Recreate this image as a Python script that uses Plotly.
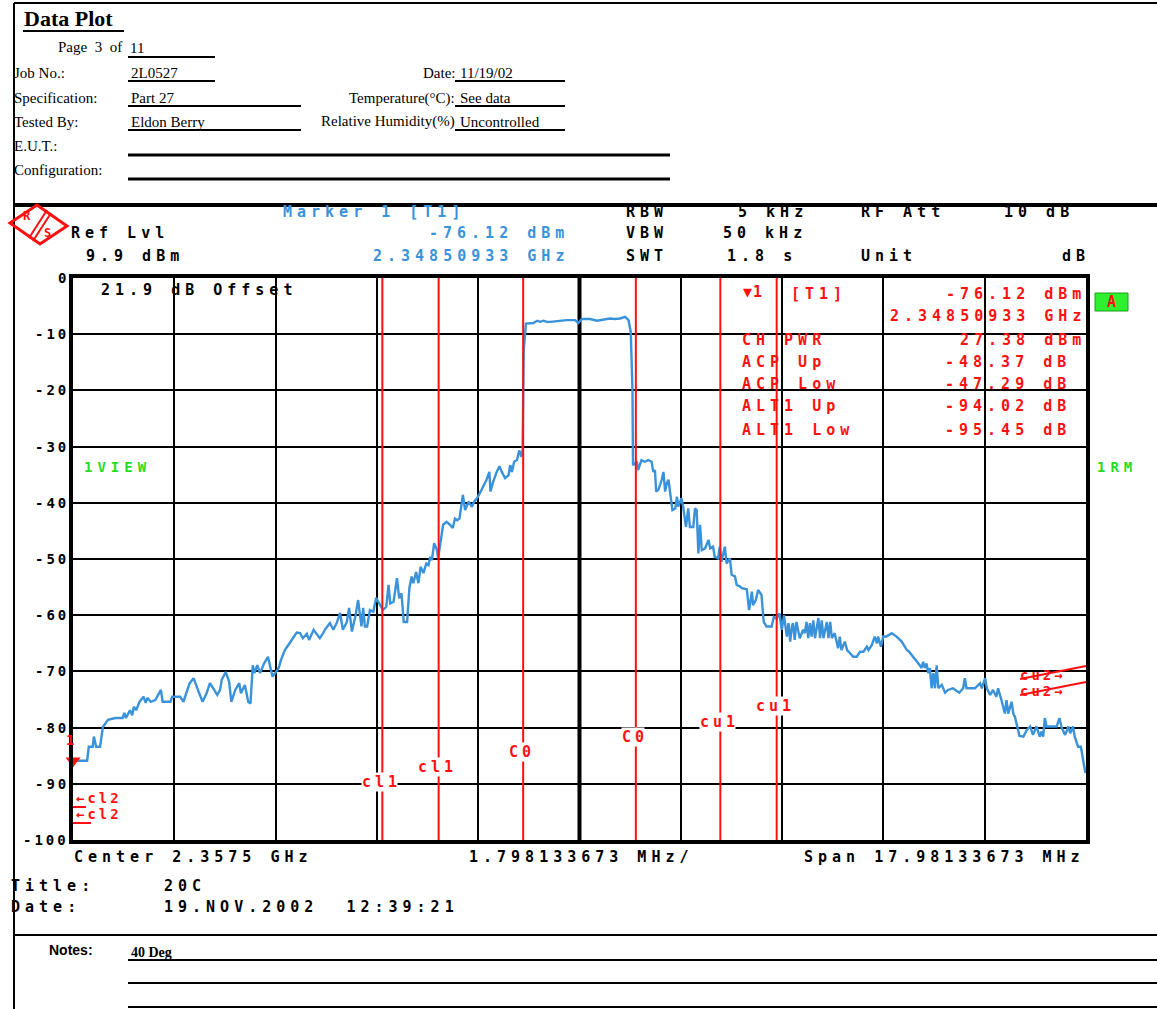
import plotly.graph_objects as go

W, H = 1157, 1009

# ---------------- data ----------------
center_ghz = 2.3575
span_mhz = 17.98133673
div_mhz = 1.798133673

freq_mhz = [
    -8.99, -8.74, -8.71, -8.64, -8.62, -8.58, -8.51, -8.46, -8.37, -8.24,
    -8.11, -8.08, -8.05, -7.98, -7.94, -7.91, -7.87, -7.81, -7.74, -7.70,
    -7.67, -7.61, -7.53, -7.43, -7.40, -7.26, -7.23, -7.09, -7.03, -6.96,
    -6.92, -6.85, -6.81, -6.75, -6.69, -6.62, -6.56, -6.52, -6.43, -6.38,
    -6.35, -6.28, -6.22, -6.18, -6.11, -6.04, -6.01, -5.94, -5.88, -5.84,
    -5.80, -5.77, -5.72, -5.67, -5.60, -5.53, -5.45, -5.40, -5.34, -5.30,
    -5.23, -5.14, -5.02, -4.96, -4.91, -4.84, -4.80, -4.72, -4.66, -4.61,
    -4.55, -4.52, -4.43, -4.37, -4.31, -4.25, -4.20, -4.13, -4.09, -4.04,
    -3.98, -3.93, -3.87, -3.84, -3.81, -3.77, -3.72, -3.66, -3.61, -3.56,
    -3.49, -3.43, -3.39, -3.36, -3.30, -3.24, -3.20, -3.16, -3.12, -3.06,
    -3.02, -2.98, -2.95, -2.90, -2.86, -2.82, -2.77, -2.72, -2.68, -2.65,
    -2.62, -2.58, -2.53, -2.51, -2.46, -2.42, -2.36, -2.30, -2.25, -2.21,
    -2.17, -2.13, -2.07, -2.03, -1.97, -1.91, -1.87, -1.82, -1.77, -1.71,
    -1.65, -1.60, -1.58, -1.54, -1.47, -1.42, -1.38, -1.32, -1.26, -1.23,
    -1.20, -1.16, -1.11, -1.07, -1.03, -1.01, -0.99, -0.95, -0.82, -0.75,
    -0.70, -0.64, -0.58, -0.52, -0.35, -0.23, -0.08, -0.02, 0.04, 0.19,
    0.31, 0.36, 0.48, 0.54, 0.63, 0.72, 0.81, 0.87, 0.91, 0.94,
    0.95, 1.02, 1.04, 1.10, 1.16, 1.22, 1.28, 1.31, 1.34, 1.36,
    1.40, 1.46, 1.49, 1.52, 1.55, 1.58, 1.61, 1.65, 1.70, 1.73,
    1.75, 1.81, 1.84, 1.89, 1.93, 1.96, 2.02, 2.05, 2.08, 2.11,
    2.14, 2.17, 2.23, 2.29, 2.32, 2.37, 2.40, 2.46, 2.49, 2.52,
    2.58, 2.61, 2.67, 2.70, 2.76, 2.79, 2.85, 2.88, 2.97, 3.01,
    3.06, 3.08, 3.13, 3.17, 3.23, 3.27, 3.32, 3.41, 3.45, 3.50,
    3.55, 3.59, 3.63, 3.68, 3.71, 3.74, 3.77, 3.79, 3.82, 3.85,
    3.91, 3.97, 4.00, 4.03, 4.06, 4.09, 4.12, 4.15, 4.18, 4.24,
    4.27, 4.30, 4.33, 4.39, 4.42, 4.45, 4.48, 4.53, 4.59, 4.62,
    4.65, 4.71, 4.75, 4.80, 4.86, 4.92, 4.98, 5.04, 5.10, 5.13,
    5.19, 5.24, 5.28, 5.30, 5.35, 5.39, 5.45, 5.54, 5.63, 5.72,
    5.81, 5.85, 5.92, 5.98, 6.04, 6.07, 6.10, 6.13, 6.16, 6.19,
    6.22, 6.25, 6.28, 6.31, 6.34, 6.37, 6.43, 6.49, 6.54, 6.63,
    6.74, 6.81, 6.84, 6.87, 6.93, 7.02, 7.11, 7.14, 7.20, 7.23,
    7.29, 7.34, 7.40, 7.43, 7.49, 7.55, 7.58, 7.61, 7.67, 7.70,
    7.73, 7.76, 7.81, 7.88, 7.94, 8.00, 8.05, 8.11, 8.17, 8.20,
    8.23, 8.26, 8.29, 8.35, 8.47, 8.52, 8.56, 8.62, 8.68, 8.71,
    8.76, 8.79, 8.85, 8.90, 8.92, 8.95, 8.98,
]
level_db = [
    -85.9, -85.9, -83.4, -83.4, -81.6, -83.4, -83.4, -79.9, -78.6, -78.3,
    -78.3, -77.4, -78.3, -76.9, -77.8, -76.3, -76.9, -75.4, -74.5, -75.6,
    -74.7, -75.4, -75.1, -73.3, -75.4, -75.4, -74.5, -74.5, -75.4, -73.3,
    -72.1, -71.2, -72.4, -73.9, -75.4, -73.9, -72.1, -72.7, -74.2, -73.3,
    -71.5, -70.1, -71.8, -75.4, -73.3, -72.1, -73.9, -72.4, -75.4, -75.7,
    -68.9, -70.3, -68.9, -70.3, -68.6, -67.4, -70.9, -70.3, -69.4, -68.0,
    -66.2, -64.9, -63.1, -63.2, -64.1, -63.3, -64.4, -62.6, -63.5, -64.1,
    -63.2, -62.6, -61.4, -62.6, -61.4, -59.6, -62.6, -61.2, -58.7, -62.9,
    -60.3, -57.3, -62.0, -58.7, -62.0, -62.0, -59.1, -59.4, -56.9, -57.8,
    -59.1, -58.5, -54.6, -57.9, -57.6, -53.4, -57.0, -56.1, -61.2, -61.2,
    -55.2, -53.1, -54.3, -52.3, -54.3, -51.4, -52.5, -50.8, -51.1, -49.6,
    -50.2, -47.2, -48.4, -49.9, -46.0, -43.9, -43.4, -43.9, -44.5, -42.8,
    -43.1, -42.8, -38.6, -41.3, -39.8, -40.7, -39.8, -39.2, -38.3, -37.1,
    -35.9, -34.5, -38.0, -36.5, -34.5, -33.5, -34.5, -35.6, -35.1, -33.3,
    -34.5, -32.7, -32.4, -30.7, -31.8, -30.6, -12.8, -8.1, -8.0, -7.6,
    -7.8, -7.6, -7.8, -7.8, -7.6, -7.5, -7.5, -8.0, -7.3, -7.3,
    -7.6, -7.5, -7.3, -7.2, -7.3, -7.2, -6.9, -7.5, -9.6, -19.9,
    -33.3, -32.7, -34.2, -32.4, -32.7, -32.4, -32.7, -34.5, -34.2, -38.0,
    -37.7, -35.9, -34.5, -38.0, -36.5, -35.9, -38.3, -41.3, -41.0, -38.9,
    -40.7, -39.2, -40.7, -44.3, -41.0, -44.3, -44.3, -41.0, -41.3, -49.0,
    -43.9, -48.4, -48.1, -46.6, -48.1, -47.8, -49.6, -49.9, -47.8, -50.5,
    -47.8, -50.8, -49.9, -52.8, -53.1, -54.6, -54.9, -55.2, -55.4, -59.1,
    -55.8, -58.2, -57.3, -55.5, -56.4, -61.2, -62.0, -62.0, -60.3, -60.6,
    -59.7, -62.6, -60.0, -63.8, -61.4, -64.7, -62.0, -61.4, -64.4, -61.2,
    -64.1, -62.6, -63.2, -61.2, -64.1, -61.4, -63.8, -60.9, -64.1, -60.5,
    -64.1, -60.9, -64.1, -61.2, -64.1, -61.2, -64.1, -63.2, -65.9, -63.8,
    -66.2, -64.7, -66.2, -66.8, -67.4, -67.4, -66.5, -66.5, -65.6, -66.2,
    -65.3, -63.8, -65.0, -63.8, -65.6, -63.8, -63.8, -63.2, -63.8, -64.7,
    -66.2, -66.5, -67.4, -68.0, -68.9, -69.4, -68.3, -69.4, -68.6, -70.3,
    -69.4, -73.0, -70.3, -73.0, -68.9, -73.0, -72.4, -73.8, -73.3, -73.0,
    -73.8, -73.0, -71.2, -73.0, -73.0, -73.0, -72.1, -73.0, -71.2, -73.0,
    -74.2, -73.3, -74.5, -73.0, -75.1, -77.5, -75.1, -77.5, -75.4, -77.5,
    -78.1, -79.2, -81.5, -81.6, -80.4, -79.8, -81.3, -79.8, -81.6, -80.7,
    -81.6, -78.3, -79.8, -79.8, -79.8, -78.3, -80.1, -81.3, -79.8, -81.0,
    -79.8, -81.6, -83.4, -83.4, -84.9, -86.4, -88.1,
]

y_ticks = [0, -10, -20, -30, -40, -50, -60, -70, -80, -90, -100]
y_tick_text = ["0", "-10", "-20", "-30", "-40", "-50", "-60", "-70", "-80", "-90", "-100"]

ch_lines_mhz = [-3.5, -2.5, -1.0, 1.0, 2.5, 3.5]
ch_labels = ["cl1", "cl1", "C0", "C0", "cu1", "cu1"]

marker_rows = [
    ("CH PWR", "27.38 dBm"),
    ("ACP Up", "-48.37 dB"),
    ("ACP Low", "-47.29 dB"),
    ("ALT1 Up", "-94.02 dB"),
    ("ALT1 Low", "-95.45 dB"),
]

# ---------------- styling ----------------
MONO = "DejaVu Sans Mono"
SERIF = "Liberation Serif"
BLUE = "#3a92da"
RED = "#ff1010"
GREEN = "#22dd22"
LS = 5

X_HALF = span_mhz / 2.0
x_dom = [73 / W, 1086 / W]
y_dom = [1 - 840 / H, 1 - 278 / H]


def X(px):
    return px / W


def Y(py):
    return 1 - py / H


def spaced(s, ls):
    if len(s) < 2 or ls == 0:
        return s
    return '<span style="letter-spacing:%gpx">%s</span>%s' % (ls, s[:-1], s[-1])


fig = go.Figure()

fig.add_trace(go.Scatter(
    x=freq_mhz, y=level_db, mode="lines",
    line=dict(color=BLUE, width=2.4), hoverinfo="skip", showlegend=False,
))

# marker 1 on the trace
fig.add_trace(go.Scatter(
    x=[freq_mhz[0]], y=[level_db[0]], mode="markers", cliponaxis=False,
    marker=dict(symbol="triangle-down", size=13, color=RED), hoverinfo="skip",
    showlegend=False,
))

fig.update_layout(
    width=W, height=H, margin=dict(l=0, r=0, t=0, b=0),
    paper_bgcolor="white", plot_bgcolor="white", showlegend=False,
    xaxis=dict(domain=x_dom, range=[-X_HALF, X_HALF], tickmode="linear", tick0=0,
               dtick=div_mhz, showticklabels=False, ticks="", showgrid=True,
               gridcolor="black", gridwidth=2, zeroline=False, showline=True,
               mirror=True, linecolor="black", linewidth=4, fixedrange=True),
    yaxis=dict(domain=y_dom, range=[-100, 0], tickmode="linear", tick0=0, dtick=10,
               showticklabels=False, ticks="", showgrid=True, gridcolor="black",
               gridwidth=2, zeroline=False, showline=True, mirror=True,
               linecolor="black", linewidth=4, fixedrange=True),
)

shapes = []


def line(x0, y0, x1, y1, w=2, c="black"):
    shapes.append(dict(type="line", xref="paper", yref="paper", x0=X(x0), y0=Y(y0),
                       x1=X(x1), y1=Y(y1), line=dict(color=c, width=w)))


annots = []


def text(x, y, s, color="black", size=15, anchor="left", family=MONO, ls=LS,
         bg=None, weight=None):
    if weight is None:
        weight = "bold" if family == MONO else "normal"
    a = dict(xref="paper", yref="paper", x=X(x), y=Y(y), text=spaced(s, ls), showarrow=False,
             xanchor=anchor, yanchor="middle", borderpad=0,
             font=dict(family=family, size=size, color=color, weight=weight))
    if bg:
        a["bgcolor"] = bg
    annots.append(a)


# centre thick line of the graticule
shapes.append(dict(type="line", xref="x", yref="y", x0=0, x1=0, y0=-100, y1=0,
                   layer="below", line=dict(color="black", width=4)))

# channel limit lines
for f in ch_lines_mhz:
    shapes.append(dict(type="line", xref="x", yref="y", x0=f, x1=f, y0=-100, y1=0,
                       line=dict(color=RED, width=2)))

ch_label_db = [-89.7, -87.0, -84.3, -81.7, -79.0, -76.2]
for f, lab, yv in zip(ch_lines_mhz, ch_labels, ch_label_db):
    annots.append(dict(xref="x", yref="y", x=f, y=yv, text=spaced(lab, 4), showarrow=False,
                       xanchor="center", yanchor="middle", xshift=-3, bgcolor="white",
                       borderpad=0, font=dict(family=MONO, size=15, color=RED, weight="bold")))

# ---------------- page frame ----------------
line(14, 3, 1157, 3, 2)
line(14, 3, 14, 1009, 2)
line(14, 205, 1157, 205, 4)
line(14, 935, 1157, 935, 2)

# ---------------- header form ----------------
text(23, 19, "<b>Data Plot</b>", size=22, family=SERIF, ls=0)
line(23, 31, 124, 31, 2)
text(57, 47, "Page  3  of", size=15, family=SERIF, ls=0)
text(129, 48, "11", size=15, family=SERIF, ls=0)
line(128, 57, 215, 57, 2)

rows = [
    (73, "Job No.:", "2L0527", 215, "Date:", "11/19/02"),
    (98, "Specification:", "Part 27", 301, "Temperature(°C):", "See data"),
    (122, "Tested By:", "Eldon Berry", 301, "Relative Humidity(%)", "Uncontrolled"),
]
for yy, lab, val, ulen, rlab, rval in rows:
    text(13, yy, lab, size=15, family=SERIF, ls=0)
    text(130, yy, val, size=15, family=SERIF, ls=0)
    line(128, yy + 8, ulen, yy + 8, 2)
    text(456, yy, rlab, size=15, family=SERIF, ls=0, anchor="right")
    text(459, yy, rval, size=15, family=SERIF, ls=0)
    line(455, yy + 8, 565, yy + 8, 2)
text(13, 146, "E.U.T.:", size=15, family=SERIF, ls=0)
line(128, 155, 670, 155, 3)
text(13, 170, "Configuration:", size=15, family=SERIF, ls=0)
line(128, 179, 670, 179, 3)

# ---------------- notes ----------------
text(48, 950, "<b>Notes:</b>", size=14, family="Liberation Sans", ls=0)
text(130, 952, "<b>40 Deg</b>", size=14, family=SERIF, ls=0)
line(128, 960, 1157, 960, 2)
line(128, 983, 1157, 983, 2)
line(128, 1007, 1157, 1007, 2)

# ---------------- R&S logo ----------------
shapes.append(dict(type="path", xref="paper", yref="paper",
                   path="M %f,%f L %f,%f L %f,%f L %f,%f Z" % (
                       X(10), Y(223), X(37), Y(205), X(67), Y(226), X(40), Y(244)),
                   line=dict(color=RED, width=3)))
line(29, 238, 47, 210, 2, RED)
line(33, 241, 51, 213, 2, RED)
text(27, 216, "R", color=RED, size=12, ls=0, anchor="center")
text(47, 233, "S", color=RED, size=12, ls=0, anchor="center")

# ---------------- instrument settings text ----------------
text(282, 212, "Marker 1 [T1]", color=BLUE)
text(70, 233, "Ref Lvl")
text(565, 233, "-76.12 dBm", color=BLUE, anchor="right")
text(85, 256, "9.9 dBm")
text(565, 256, "2.34850933 GHz", color=BLUE, anchor="right")

text(625, 212, "RBW")
text(737, 212, "5 kHz")
text(860, 212, "RF Att")
text(1003, 212, "10 dB")
text(625, 233, "VBW")
text(722, 233, "50 kHz")
text(625, 256, "SWT")
text(726, 256, "1.8 s")
text(860, 256, "Unit")
text(1086, 256, "dB", anchor="right")

text(100, 290, "21.9 dB Offset")

for v, t in zip(y_ticks, y_tick_text):
    annots.append(dict(xref="paper", yref="y", x=X(67), y=v, text=spaced(t, 3),
                       showarrow=False, xanchor="right", yanchor="middle", borderpad=0,
                       font=dict(family=MONO, size=14, color="black", weight="bold")))

# marker readout (red)
text(742, 292, "▼1", color=RED, size=15, ls=1)
text(790, 294, "[T1]", color=RED)
text(1082, 294, "-76.12 dBm", color=RED, anchor="right")
text(1082, 316, "2.34850933 GHz", color=RED, anchor="right")
row_y = [340, 362, 384, 406, 430]
for i, (lab, val) in enumerate(marker_rows):
    text(741, row_y[i], lab, color=RED)
    text(1082 if i == 0 else 1067, row_y[i], val, color=RED, anchor="right")

# green A box
shapes.append(dict(type="rect", xref="paper", yref="paper", x0=X(1095), x1=X(1128),
                   y0=Y(311), y1=Y(293), fillcolor="#2ef02e", line=dict(color="#18a018", width=1)))
text(1111, 302, "A", color=RED, size=15, ls=0, anchor="center")

text(83, 467, "1VIEW", color=GREEN, size=14)
text(1096, 467, "1RM", color=GREEN, size=14)

# marker number above the on-trace marker
text(70, 740, "1", color=RED, size=14, ls=0, anchor="center")

# cl2 / cu2 markers
text(75, 798, "←cl2", color=RED, size=14, ls=3)
text(75, 814, "←cl2", color=RED, size=14, ls=3)
line(73, 807, 86, 807, 2, RED)
line(73, 823, 91, 823, 2, RED)
text(1019, 675, "cu2→", color=RED, size=14, ls=3)
text(1019, 691, "cu2→", color=RED, size=14, ls=3)
line(1020, 679, 1086, 666, 2, RED)
line(1020, 695, 1086, 682, 2, RED)

# bottom axis text
text(73, 857, "Center %.4f GHz" % center_ghz)
text(468, 857, "%.9f MHz/" % div_mhz)
text(1081, 857, "Span %.8f MHz" % span_mhz, anchor="right")
text(10, 886, "Title:")
text(163, 886, "20C")
text(10, 907, "Date:")
text(163, 907, "19.NOV.2002  12:39:21")

fig.update_layout(shapes=shapes, annotations=annots)

fig.write_html("out.html", config={"displayModeBar": False, "staticPlot": True},
               post_script="document.body.style.margin='0';document.body.style.overflow='hidden';")
